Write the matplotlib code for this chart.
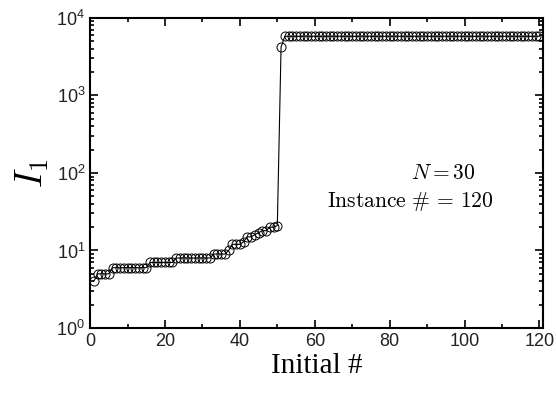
import matplotlib
matplotlib.use("Agg")
import matplotlib.pyplot as plt
import numpy as np

# I_1 value for each initial condition (sorted)
initial = list(range(1, 121))
low_part = [4, 5, 5, 5, 5,
            6, 6, 6, 6, 6, 6, 6, 6, 6, 6,
            7, 7, 7, 7, 7, 7, 7,
            8, 8, 8, 8, 8, 8, 8, 8, 8, 8,
            9, 9, 9, 9,
            10, 12, 12, 12, 13, 15, 15, 16, 17, 18, 18, 20, 20, 21]
jump_value = [4200]
plateau = [5800] * 69
I1 = low_part + jump_value + plateau

plt.rcParams['mathtext.fontset'] = 'cm'

fig = plt.figure(figsize=(5.56, 3.94), dpi=100)
ax = fig.add_axes([0.162, 0.1675, 0.815, 0.787])

ax.semilogy(initial, I1, color='black', linewidth=0.8, marker='o', markersize=6.5,
            markerfacecolor='none', markeredgecolor='black', markeredgewidth=0.7)

ax.set_xlim(0, 121)
ax.set_ylim(1, 1e4)
ax.set_xticks(np.arange(0, 121, 20))
ax.set_xticks(np.arange(10, 121, 20), minor=True)
ax.tick_params(which='both', direction='in', top=True, right=True,
               labelsize=13, width=1.2, labelcolor='#222222')
ax.tick_params(which='major', length=6)
ax.tick_params(which='minor', length=3)
for lab in ax.get_xticklabels() + ax.get_yticklabels():
    lab.set_family('Liberation Sans')
for s in ax.spines.values():
    s.set_linewidth(1.5)

ax.set_xlabel('Initial #', family='Liberation Serif', fontsize=21, labelpad=2)
ax.set_ylabel('$I_1$', fontsize=27, labelpad=4)

ax.text(0.85, 0.48, '$N = 30$', transform=ax.transAxes, ha='right', fontsize=15.5)
ax.text(0.89, 0.39, r'$\mathrm{Instance}\ \#\, =\, 120$', transform=ax.transAxes,
        ha='right', fontsize=15.5)

fig.savefig('out.png', dpi=100)
